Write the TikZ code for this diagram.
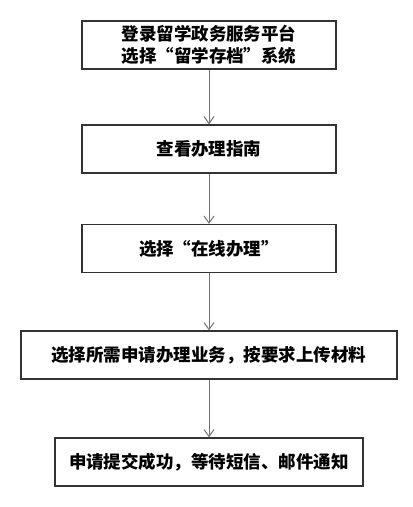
\documentclass[tikz,border=0pt]{standalone}
\usepackage{fontspec}
\newfontfamily\cjk{Noto Sans CJK SC}
\usepackage{tikz}
\usetikzlibrary{arrows.meta}

\begin{document}
\begin{tikzpicture}[x=1pt, y=-1pt,
    main_node/.style={rectangle, draw=black!80, line width=1.3pt, inner sep=0pt,
        minimum height=48pt, align=center, font=\cjk\bfseries\fontsize{17.5}{22}\selectfont},
    flow/.style={draw=black!55, line width=1pt, -{Straight Barb[length=7pt, width=10pt]}}]

    \useasboundingbox (0, 0) rectangle (413, 507);

    \node[main_node, minimum width=254pt] (1) at (209, 45) {登录留学政务服务平台\\选择“留学存档”系统};
    \node[main_node, minimum width=254pt] (2) at (209, 149) {查看办理指南};
    \node[main_node, minimum width=254pt] (3) at (209, 248.5) {选择“在线办理”};
    \node[main_node, minimum width=376pt] (4) at (209, 355) {选择所需申请办理业务，按要求上传材料};
    \node[main_node, minimum width=308pt] (5) at (209, 462) {申请提交成功，等待短信、邮件通知};
    \draw[flow] (1) -- (2);
    \draw[flow] (2) -- (3);
    \draw[flow] (3) -- (4);
    \draw[flow] (4) -- (5);

\end{tikzpicture}
\end{document}
